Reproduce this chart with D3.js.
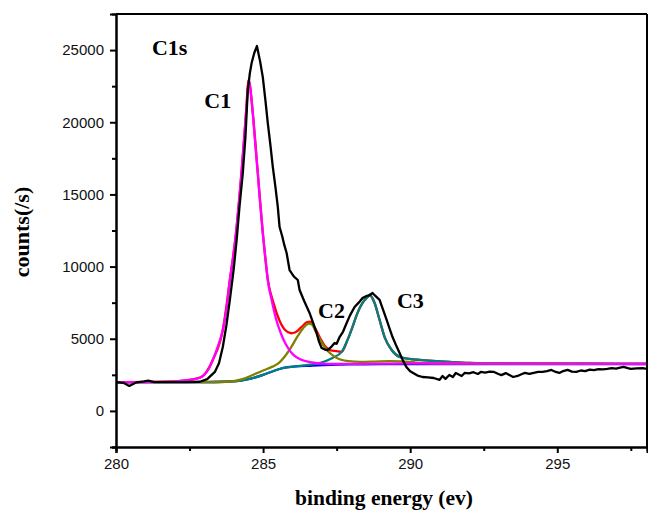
<!DOCTYPE html>
<html lang="en">
<head>
<meta charset="UTF-8">
<title>C1s</title>
<script src="https://cdn.jsdelivr.net/npm/d3@7"></script>
<style>
  body { margin: 0; background: #fff; }
  .tick text { font-family: "Liberation Sans", Arial, sans-serif; font-size: 15px; fill: #111; }
  .ttl { font-family: "Liberation Serif", "Times New Roman", serif; font-weight: bold; }
</style>
</head>
<body>
<script>
// raw spectrum (binding energy, counts)
var rawX = [280.0,280.25,280.45,280.7,280.95,281.1,281.3,281.6,282.0,282.4,282.85,283.1,283.36,283.5,283.63,283.75,283.87,284.0,284.1,284.2,284.31,284.4,284.48,284.55,284.61,284.7,284.79,284.9,284.99,285.08,285.16,285.25,285.33,285.42,285.5,285.56,285.65,285.72,285.8,285.9,286.05,286.18,286.24,286.4,286.58,286.7,286.82,286.9,286.99,287.1,287.19,287.3,287.43,287.5,287.6,287.72,287.84,287.95,288.11,288.25,288.38,288.5,288.6,288.72,288.8,288.96,289.08,289.2,289.3,289.4,289.52,289.64,289.75,289.87,290.0,290.1,290.25,290.42,290.6,290.8,291.0,291.1,291.2,291.33,291.45,291.55,291.75,291.85,292.0,292.15,292.3,292.4,292.55,292.7,292.85,293.0,293.1,293.25,293.5,293.65,293.8,293.9,294.05,294.2,294.35,294.5,294.65,294.8,294.95,295.07,295.2,295.35,295.5,295.65,295.8,295.95,296.1,296.25,296.4,296.55,296.7,296.85,297.0,297.1,297.25,297.4,297.5,297.7,297.9,298.05];
var rawY = [2000,1950,1730,1980,2050,2100,2000,1990,2000,1990,2020,2200,2700,3300,4430,5900,7690,9800,11840,14200,16480,19000,22230,23400,24100,24800,25280,24200,23130,21500,19940,18400,16900,15500,14130,12740,12100,11500,10940,9760,9300,9070,8380,7600,6790,6100,5400,4800,4360,4250,4220,4400,4710,4650,5120,5500,6090,6600,7200,7500,7820,7950,8000,8170,8000,7690,7000,6300,5700,5120,4550,4020,3500,3050,2750,2630,2450,2350,2330,2280,2150,2420,2220,2490,2350,2630,2420,2630,2600,2680,2560,2700,2650,2720,2700,2560,2480,2620,2350,2420,2560,2630,2560,2640,2700,2700,2760,2840,2700,2630,2760,2840,2720,2700,2800,2760,2860,2820,2900,2880,2910,2960,2930,2980,3050,2960,2910,2950,2960,2910];

// fitted components
var c1X = [280.0,281.0,282.0,282.5,282.85,283.0,283.15,283.29,283.45,283.63,283.75,283.87,284.0,284.1,284.2,284.28,284.35,284.41,284.47,284.51,284.56,284.65,284.73,284.82,284.9,284.99,285.08,285.16,285.3,285.45,285.6,285.75,285.9,286.05,286.3,286.6,287.0,287.5,288.0,289.0,290.0,292.0,294.0,296.0,298.05];
var c1Y = [2000,2000,2050,2150,2300,2500,2900,3530,4400,5610,7000,9070,10900,12740,14900,16900,18700,20360,22000,22920,22400,20640,18600,16480,14400,12330,10600,9070,7600,6300,5400,4700,4200,3850,3550,3380,3280,3250,3260,3270,3290,3280,3270,3260,3250];

var envX = [280.0,282.0,282.85,283.29,283.63,283.87,284.1,284.28,284.41,284.51,284.65,284.82,284.99,285.16,285.35,285.55,285.75,285.95,286.1,286.3,286.5,286.6,286.75,286.95,287.1,287.3,287.5,287.67,287.87,288.04,288.21,288.38,288.55,288.62,288.79,288.96,289.13,289.37,289.64,289.98,290.32,290.76,291.33,292.0,294.0,296.0,298.05];
var envY = [2000,2050,2300,3530,5610,9070,12740,16900,20360,22920,20640,16480,12330,9100,7500,6300,5600,5380,5450,5800,6150,6180,5800,5000,4500,4200,4150,4090,4920,5820,6790,7480,7900,8030,7480,6300,5120,4220,3740,3600,3530,3460,3390,3330,3290,3270,3260];

var c2X = [280.0,283.0,283.8,284.3,284.65,285.0,285.3,285.55,285.75,285.95,286.15,286.35,286.55,286.65,286.8,287.0,287.2,287.4,287.6,287.9,288.3,288.8,289.3,289.7,290.2,291.0,293.0,295.0,298.05];
var c2Y = [2000,2000,2020,2200,2490,2800,3050,3350,3800,4400,5100,5700,6050,6000,5450,4700,4150,3800,3580,3450,3400,3420,3450,3430,3350,3300,3280,3270,3260];

var c3X = [280.0,283.0,283.7,284.1,284.5,285.0,285.4,285.7,286.1,286.6,286.92,287.36,287.67,287.87,288.04,288.21,288.38,288.55,288.62,288.79,288.96,289.13,289.37,289.64,289.98,290.32,290.76,291.33,292.0,294.0,296.0,298.05];
var c3Y = [2000,2000,2020,2060,2200,2500,2800,2980,3080,3200,3320,3670,4090,4920,5820,6790,7480,7900,8030,7480,6300,5120,4220,3740,3600,3530,3460,3390,3330,3290,3270,3260];

var bgX = [280.0,283.0,283.7,284.1,284.5,285.0,285.4,285.7,286.1,286.6,287.3,288.0,289.0,290.0,292.0,295.0,298.05];
var bgY = [2000,2000,2020,2060,2200,2500,2800,2980,3080,3130,3190,3220,3240,3250,3250,3250,3250];

var xMajor = [280,285,290,295];
var xMinor = [282.5,287.5,292.5,297.5];
var yMajor = [0,5000,10000,15000,20000,25000];
var yMinor = [-2500,2500,7500,12500,17500,22500];

var peakLabels = ["C1s","C1","C2","C3"];
var peakLabelX = [281.22,283.0,286.87,289.55];
var peakLabelY = [24650,20980,6440,7130];

var W = 648, H = 516;
var m = {left:116, top:14, right:1, bottom:69};
var iw = W - m.left - m.right, ih = H - m.top - m.bottom;

var svg = d3.select("body").append("svg")
  .attr("width", W).attr("height", H);

var x = d3.scaleLinear().domain([280, 298.05]).range([0, iw]);
var y = d3.scaleLinear().domain([-2500, 27500]).range([ih, 0]);

var g = svg.append("g").attr("transform", "translate(" + m.left + "," + m.top + ")");

svg.append("defs").append("clipPath").attr("id", "clip")
  .append("rect").attr("width", iw).attr("height", ih);

function pts(xs, ys) { return xs.map(function(d, i){ return [d, ys[i]]; }); }

var smooth = d3.line().x(function(d){ return x(d[0]); }).y(function(d){ return y(d[1]); })
  .curve(d3.curveMonotoneX);
var straight = d3.line().x(function(d){ return x(d[0]); }).y(function(d){ return y(d[1]); });

var plot = g.append("g").attr("clip-path", "url(#clip)");

var series = [
  {x: bgX, y: bgY, c: "#0000ff", line: smooth},
  {x: envX, y: envY, c: "#ff0000", line: smooth},
  {x: c3X, y: c3Y, c: "#008080", line: smooth},
  {x: c2X, y: c2Y, c: "#808000", line: smooth},
  {x: c1X, y: c1Y, c: "#ff00ff", line: smooth},
  {x: rawX, y: rawY, c: "#000000", line: straight}
];

series.forEach(function(s){
  plot.append("path")
    .attr("d", s.line(pts(s.x, s.y)))
    .attr("fill", "none")
    .attr("stroke", s.c)
    .attr("stroke-width", 2.3)
    .attr("stroke-linejoin", "round");
});

// axes
g.append("g").attr("transform", "translate(0," + ih + ")")
  .call(d3.axisBottom(x).tickValues(xMajor).tickSize(6).tickPadding(5).tickFormat(d3.format("d")));
g.append("g").attr("transform", "translate(0," + ih + ")")
  .call(d3.axisBottom(x).tickValues(xMinor).tickSize(4).tickFormat(""));
g.append("g")
  .call(d3.axisLeft(y).tickValues(yMajor).tickSize(6).tickPadding(6).tickFormat(d3.format("d")));
g.append("g")
  .call(d3.axisLeft(y).tickValues(yMinor).tickSize(4).tickFormat(""));

g.selectAll(".domain").attr("stroke", "#000").attr("stroke-width", 2);
g.selectAll(".tick line").attr("stroke", "#000").attr("stroke-width", 2);

// frame top/right
g.append("line").attr("x1", 0).attr("x2", iw).attr("y1", 0).attr("y2", 0)
  .attr("stroke", "#000").attr("stroke-width", 2);
g.append("line").attr("x1", iw).attr("x2", iw).attr("y1", 0).attr("y2", ih)
  .attr("stroke", "#000").attr("stroke-width", 2);

// peak labels
g.selectAll(".pk").data(peakLabels).enter().append("text")
  .attr("class", "ttl")
  .attr("x", function(d, i){ return x(peakLabelX[i]); })
  .attr("y", function(d, i){ return y(peakLabelY[i]); })
  .attr("font-size", 22)
  .text(function(d){ return d; });

// axis titles
svg.append("text").attr("class", "ttl")
  .attr("x", 384).attr("y", 505)
  .attr("text-anchor", "middle").attr("font-size", 21.5)
  .text("binding energy (ev)");
svg.append("text").attr("class", "ttl")
  .attr("transform", "translate(29,232) rotate(-90)")
  .attr("text-anchor", "middle").attr("font-size", 22)
  .text("counts(/s)");
</script>
</body>
</html>
